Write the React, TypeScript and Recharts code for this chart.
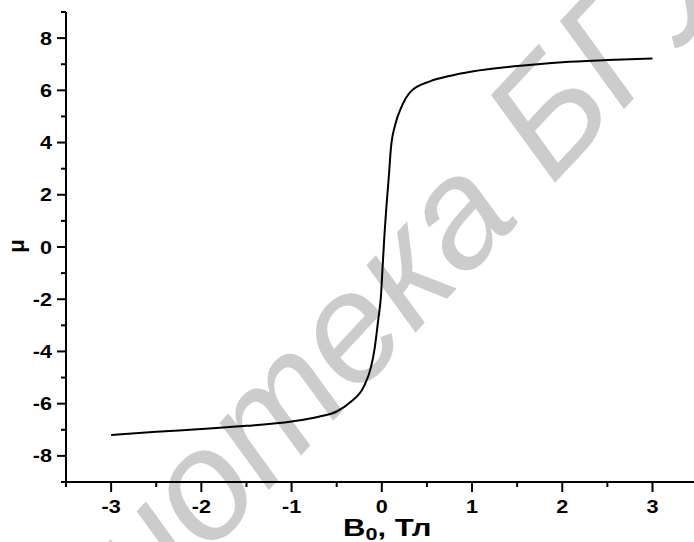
import { LineChart, Line, XAxis, YAxis, Label } from 'recharts'

// B0 (T) and relative permeability
const bField = [-3.0, -2.5, -2.0, -1.5, -1.0, -0.7, -0.5, -0.35, -0.2, -0.12, -0.08, -0.04, -0.01, 0.01, 0.03, 0.05, 0.08, 0.1, 0.15, 0.21, 0.32, 0.54, 0.75, 1.0, 1.5, 2.0, 2.5, 3.0]
const mu = [-7.2, -7.08, -6.97, -6.85, -6.68, -6.5, -6.3, -5.95, -5.35, -4.6, -3.9, -2.8, -1.9, -0.7, 0.5, 1.5, 2.8, 3.75, 4.7, 5.3, 5.95, 6.35, 6.55, 6.72, 6.93, 7.08, 7.16, 7.22]

const xTicks = [-3.5, -3, -2.5, -2, -1.5, -1, -0.5, 0, 0.5, 1, 1.5, 2, 2.5, 3]
const yTicks = [-9, -8, -7, -6, -5, -4, -3, -2, -1, 0, 1, 2, 3, 4, 5, 6, 7, 8, 9]
const xLabels = [-3, -2, -1, 0, 1, 2, 3]
const yLabels = [-8, -6, -4, -2, 0, 2, 4, 6, 8]

const data = bField.map((b, i) => ({ b, mu: mu[i] }))

const FONT = '"Liberation Sans", Arial, sans-serif'

function XTick({ x, y, payload }: any) {
  const v = payload.value
  const major = xLabels.includes(v)
  return (
    <g>
      <line x1={x} x2={x} y1={y} y2={y + (major ? 10 : 5)} stroke="#000" strokeWidth={2} />
      {major && (
        <text transform={`translate(${x},${y + 31}) scale(1.2,1)`} textAnchor="middle"
          fontFamily={FONT} fontWeight="bold" fontSize={18} fill="#000">{v}</text>
      )}
    </g>
  )
}

function YTick({ x, y, payload }: any) {
  const v = payload.value
  const major = yLabels.includes(v)
  return (
    <g>
      <line x1={x - (major ? 9 : 5)} x2={x} y1={y} y2={y} stroke="#000" strokeWidth={2} />
      {major && (
        <text transform={`translate(${x - 14},${y + 6.5}) scale(1.2,1)`} textAnchor="end"
          fontFamily={FONT} fontWeight="bold" fontSize={18} fill="#000">{v}</text>
      )}
    </g>
  )
}

function XTitle({ viewBox }: any) {
  const { x, y } = viewBox
  return (
    <text transform={`translate(${x + 277},${y + 54}) scale(1.35,1)`} fontFamily={FONT}
      fontWeight="bold" fontSize={23} fill="#000">
      B<tspan dy={4} fontSize={16}>0</tspan><tspan dy={-4}>, Тл</tspan>
    </text>
  )
}

function YTitle({ viewBox }: any) {
  const { x, y, height } = viewBox
  return (
    <text transform={`translate(${x + 8},${y + height / 2 - 1}) rotate(-90)`} textAnchor="middle"
      fontFamily={FONT} fontWeight="bold" fontSize={22} fill="#000">μ</text>
  )
}

export default function App() {
  return (
    <div style={{ position: 'relative', width: 694, height: 542, background: '#fff', overflow: 'hidden' }}>
      <style>{'body{margin:0}'}</style>
      <svg width={694} height={542} style={{ position: 'absolute', left: 0, top: 0 }}>
        <text transform="translate(-95,880) rotate(-47)" fontFamily={FONT} fontStyle="italic"
          fontSize={155} fill="#cccccc">
          Библиотека БГУ
        </text>
      </svg>
      <div style={{ position: 'absolute', left: 0, top: 0 }}>
        <LineChart width={694} height={542} data={data} margin={{ top: 12, right: 0, left: 16, bottom: 0 }}>
          <XAxis dataKey="b" type="number" domain={[-3.5, 3.46]} ticks={xTicks} allowDataOverflow
            interval={0} height={60} tickSize={0} tickMargin={0} tickLine={false} tick={<XTick />}
            axisLine={{ stroke: '#000', strokeWidth: 2 }}>
            <Label content={<XTitle />} />
          </XAxis>
          <YAxis type="number" domain={[-9, 9]} ticks={yTicks} allowDataOverflow interval={0}
            width={50} tickSize={0} tickMargin={0} tickLine={false} tick={<YTick />}
            axisLine={{ stroke: '#000', strokeWidth: 2 }}>
            <Label content={<YTitle />} />
          </YAxis>
          <Line dataKey="mu" type="monotone" stroke="#000" strokeWidth={2} dot={false} isAnimationActive={false} />
        </LineChart>
      </div>
    </div>
  )
}
